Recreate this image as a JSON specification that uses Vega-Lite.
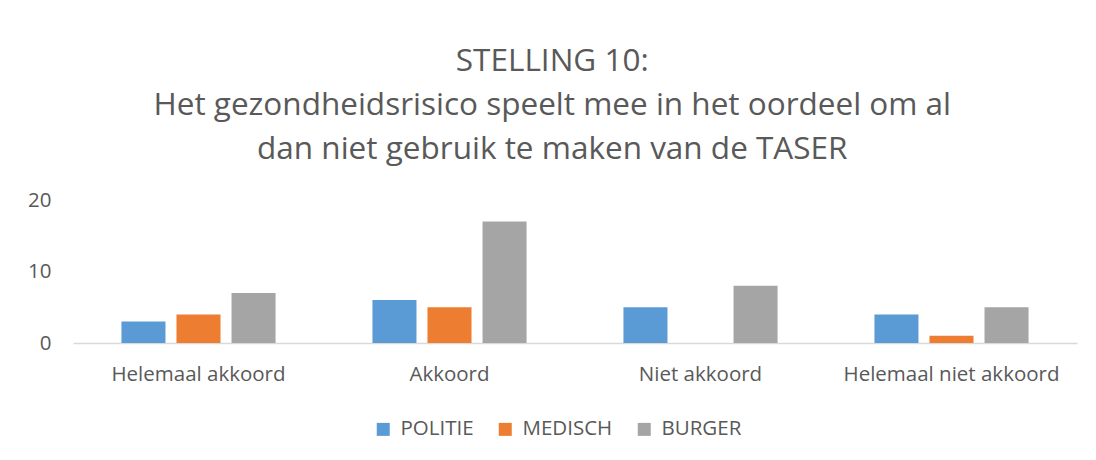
{
  "$schema": "https://vega.github.io/schema/vega-lite/v6.json",
  "autosize": {"type": "none"},
  "width": 1004,
  "height": 143,
  "padding": {"left": 73, "top": 200, "right": 19, "bottom": 117},
  "background": "white",
  "title": {
    "text": ["STELLING 10:", "Het gezondheidsrisico speelt mee in het oordeel om al", "dan niet gebruik te maken van de TASER"],
    "font": "Open Sans",
    "fontSize": 31.5,
    "fontWeight": "normal",
    "color": "#595959",
    "lineHeight": 44,
    "anchor": "middle",
    "frame": "bounds",
    "offset": 25
  },
  "data": {
    "values": [
      {"cat": "Helemaal akkoord", "groep": "POLITIE", "v": 3},
      {"cat": "Helemaal akkoord", "groep": "MEDISCH", "v": 4},
      {"cat": "Helemaal akkoord", "groep": "BURGER", "v": 7},
      {"cat": "Akkoord", "groep": "POLITIE", "v": 6},
      {"cat": "Akkoord", "groep": "MEDISCH", "v": 5},
      {"cat": "Akkoord", "groep": "BURGER", "v": 17},
      {"cat": "Niet akkoord", "groep": "POLITIE", "v": 5},
      {"cat": "Niet akkoord", "groep": "MEDISCH", "v": 0},
      {"cat": "Niet akkoord", "groep": "BURGER", "v": 8},
      {"cat": "Helemaal niet akkoord", "groep": "POLITIE", "v": 4},
      {"cat": "Helemaal niet akkoord", "groep": "MEDISCH", "v": 1},
      {"cat": "Helemaal niet akkoord", "groep": "BURGER", "v": 5}
    ]
  },
  "mark": {"type": "bar"},
  "encoding": {
    "x": {
      "field": "cat", "type": "nominal",
      "sort": ["Helemaal akkoord", "Akkoord", "Niet akkoord", "Helemaal niet akkoord"],
      "scale": {"paddingInner": 0, "paddingOuter": 0},
      "axis": {
        "title": null, "labelAngle": 0, "ticks": false, "labelLimit": 400,
        "domainColor": "#D9D9D9", "domainWidth": 1.5,
        "labelFont": "Open Sans", "labelFontSize": 20.5, "labelColor": "#595959",
        "labelPadding": 21
      }
    },
    "xOffset": {
      "field": "groep", "type": "nominal",
      "sort": ["POLITIE", "MEDISCH", "BURGER"],
      "scale": {"paddingInner": 0.2, "paddingOuter": 0.88}
    },
    "y": {
      "field": "v", "type": "quantitative",
      "scale": {"domain": [0, 20], "nice": false},
      "axis": {
        "title": null, "values": [0, 10, 20], "grid": false, "domain": false, "ticks": false,
        "labelFont": "Open Sans", "labelFontSize": 20.5, "labelColor": "#595959",
        "labelPadding": 22
      }
    },
    "color": {
      "field": "groep", "type": "nominal",
      "sort": ["POLITIE", "MEDISCH", "BURGER"],
      "scale": {"domain": ["POLITIE", "MEDISCH", "BURGER"], "range": ["#5B9BD5", "#ED7D31", "#A5A5A5"]},
      "legend": {
        "title": null, "orient": "none", "legendX": 300, "legendY": 219, "direction": "horizontal",
        "padding": 0,
        "symbolType": "square", "symbolSize": 169, "symbolStrokeWidth": 0,
        "labelFont": "Open Sans", "labelFontSize": 20.5, "labelColor": "#595959",
        "labelOffset": 7, "columnPadding": 21
      }
    }
  },
  "config": {
    "view": {"stroke": null}
  }
}
